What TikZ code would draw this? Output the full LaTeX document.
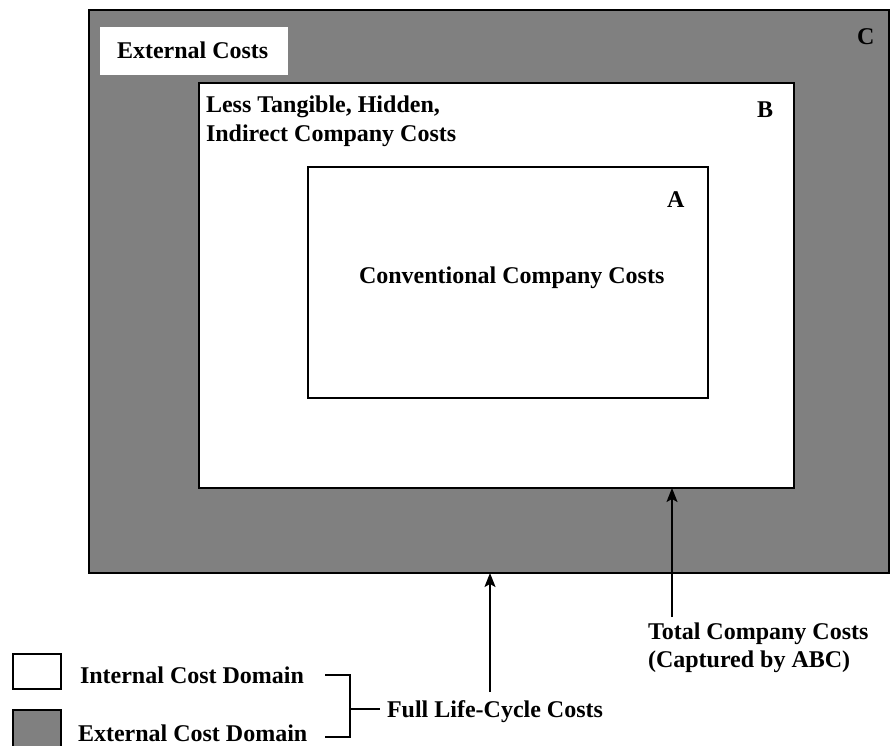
\documentclass[tikz,border=0pt]{standalone}
\usepackage{fontspec}
\setmainfont{Liberation Serif}
\usetikzlibrary{arrows.meta}
\begin{document}
\begin{tikzpicture}[x=1pt,y=-1pt,
  box/.style={draw=black,line width=1.6pt,rectangle,inner sep=0,outer sep=0,anchor=north west},
  lbl/.style={inner sep=0,outer sep=0,anchor=base west,font=\fontsize{24}{28}\selectfont\bfseries},
  arr/.style={line width=1.5pt,-{Stealth[length=14pt,width=11pt,inset=3pt]}},
  brk/.style={line width=1.5pt}]
\useasboundingbox (0,0) rectangle (891,745);
% nested domains
\node[box,fill=gray,minimum width=800,minimum height=563] (C) at (89,10) {};
\node[inner sep=0,outer sep=0,anchor=north west,fill=white,minimum width=188,minimum height=48] (ECbox) at (100,27) {};
\node[box,fill=white,minimum width=595,minimum height=405] (B) at (199,83) {};
\node[box,fill=white,minimum width=400,minimum height=231] (A) at (308,167) {};
% labels
\node[lbl] (tEC) at (117,58) {External Costs};
\node[lbl] (tC) at (857,44) {C};
\node[lbl] (tB1) at (206,112) {Less Tangible, Hidden,};
\node[lbl] (tB2) at (206,141) {Indirect Company Costs};
\node[lbl] (tB) at (757,117) {B};
\node[lbl] (tA) at (667,207) {A};
\node[lbl] (tA1) at (359,283) {Conventional Company Costs};
% arrows
\coordinate (fa) at (490,692);
\coordinate (ta) at (672,617);
\draw[arr] (fa) -- (fa |- C.south);
\draw[arr] (ta) -- (ta |- B.south);
\node[lbl] (tT1) at (648,639) {Total Company Costs};
\node[lbl] (tT2) at (648,667) {(Captured by ABC)};
% legend
\node[box,fill=white,minimum width=48,minimum height=35,line width=1.5pt] (L1) at (13,654) {};
\node[box,fill=gray,minimum width=48,minimum height=37,line width=1.5pt] (L2) at (13,710) {};
\node[lbl] (tL1) at (80,683) {Internal Cost Domain};
\node[lbl] (tL2) at (78,741) {External Cost Domain};
% bracket
\coordinate (b1) at (325,675);
\coordinate (b2) at (325,737);
\coordinate (bm) at (350,709);
\draw[brk] (b1) -- (b1 -| bm) -- (b2 -| bm) -- (b2);
\draw[brk] (bm) -- ++(30,0) coordinate (be);
\node[lbl] (tF) at (387,717) {Full Life-Cycle Costs};
\end{tikzpicture}
\end{document}
